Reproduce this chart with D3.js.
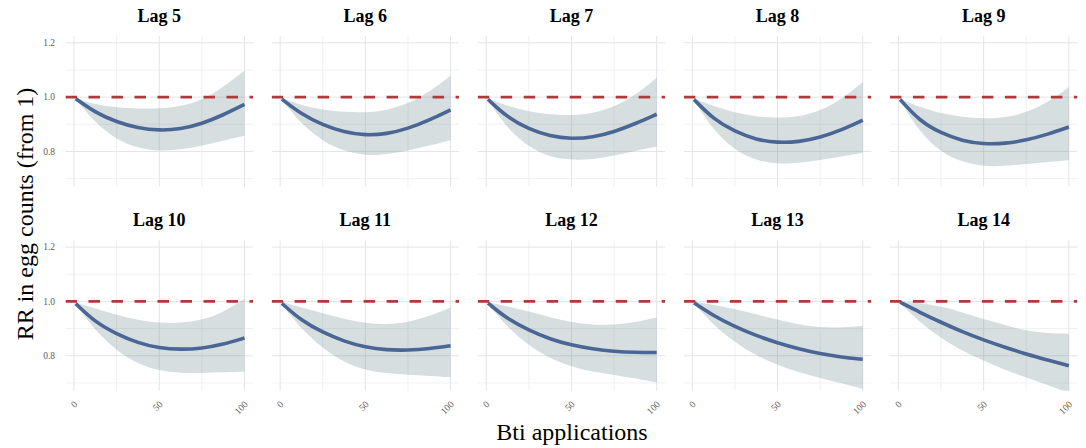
<!DOCTYPE html>
<html>
<head>
<meta charset="utf-8">
<script src="https://cdn.jsdelivr.net/npm/d3@7"></script>
<style>
  html, body { margin: 0; padding: 0; background: #ffffff; }
  svg { display: block; }
</style>
</head>
<body>
<svg id="chart" width="1086" height="448"></svg>
<script>
// ---- data ----
const lags = ["Lag 5", "Lag 6", "Lag 7", "Lag 8", "Lag 9", "Lag 10", "Lag 11", "Lag 12", "Lag 13", "Lag 14"];
const btiApplications = [1, 12.5, 25, 37.5, 50, 62.5, 75, 87.5, 100];
const rrFit = [
  [0.994, 0.943, 0.908, 0.886, 0.877, 0.882, 0.902, 0.934, 0.973],
  [0.993, 0.937, 0.898, 0.871, 0.859, 0.864, 0.884, 0.915, 0.953],
  [0.992, 0.925, 0.882, 0.856, 0.846, 0.852, 0.872, 0.902, 0.937],
  [0.991, 0.918, 0.873, 0.843, 0.832, 0.835, 0.851, 0.879, 0.915],
  [0.991, 0.912, 0.867, 0.839, 0.827, 0.829, 0.841, 0.863, 0.890],
  [0.992, 0.923, 0.880, 0.847, 0.828, 0.823, 0.827, 0.842, 0.865],
  [0.993, 0.929, 0.886, 0.853, 0.831, 0.821, 0.820, 0.826, 0.837],
  [0.994, 0.935, 0.894, 0.861, 0.839, 0.825, 0.816, 0.812, 0.812],
  [0.995, 0.947, 0.907, 0.874, 0.847, 0.825, 0.807, 0.795, 0.787],
  [0.997, 0.960, 0.923, 0.888, 0.858, 0.831, 0.806, 0.784, 0.763]
];
const rrUpper = [
  [0.996, 0.972, 0.962, 0.958, 0.957, 0.966, 0.988, 1.036, 1.097],
  [0.995, 0.970, 0.953, 0.945, 0.943, 0.951, 0.976, 1.018, 1.080],
  [0.995, 0.967, 0.946, 0.935, 0.933, 0.940, 0.963, 1.007, 1.071],
  [0.995, 0.967, 0.943, 0.928, 0.924, 0.928, 0.949, 0.991, 1.055],
  [0.995, 0.963, 0.940, 0.927, 0.921, 0.924, 0.943, 0.979, 1.037],
  [0.996, 0.974, 0.950, 0.931, 0.921, 0.920, 0.931, 0.960, 1.009],
  [0.997, 0.978, 0.956, 0.935, 0.920, 0.915, 0.923, 0.945, 0.978],
  [0.998, 0.982, 0.963, 0.941, 0.923, 0.914, 0.913, 0.923, 0.941],
  [0.999, 0.988, 0.972, 0.953, 0.933, 0.915, 0.904, 0.904, 0.910],
  [1.000, 0.994, 0.982, 0.960, 0.935, 0.913, 0.892, 0.882, 0.881]
];
const rrLower = [
  [0.992, 0.906, 0.842, 0.813, 0.801, 0.806, 0.821, 0.840, 0.858],
  [0.991, 0.900, 0.837, 0.801, 0.785, 0.789, 0.803, 0.821, 0.842],
  [0.990, 0.882, 0.817, 0.778, 0.768, 0.771, 0.784, 0.802, 0.818],
  [0.988, 0.876, 0.805, 0.766, 0.754, 0.757, 0.768, 0.782, 0.795],
  [0.987, 0.870, 0.796, 0.760, 0.745, 0.746, 0.754, 0.761, 0.768],
  [0.988, 0.892, 0.818, 0.769, 0.745, 0.736, 0.736, 0.739, 0.741],
  [0.989, 0.898, 0.827, 0.775, 0.747, 0.735, 0.730, 0.726, 0.721],
  [0.991, 0.904, 0.837, 0.790, 0.759, 0.741, 0.729, 0.717, 0.702],
  [0.992, 0.913, 0.849, 0.800, 0.766, 0.739, 0.718, 0.699, 0.678],
  [0.994, 0.923, 0.864, 0.818, 0.782, 0.747, 0.720, 0.693, 0.662]
];
const yTicks = [0.8, 1.0, 1.2];
const yMinorTicks = [0.7, 0.9, 1.1];
const xTicks = [0, 50, 100];
const xMinorTicks = [25, 75];
const referenceRR = 1;

// ---- layout ----
const svg = d3.select("#chart");
const nCols = 5;
const panelW = 187.5, panelH = 150.5;
const colStep = 206.1, rowStep = 204.3;
const left0 = 65.5, top0 = 36;

const x = d3.scaleLinear().domain([-5, 105]).range([0, panelW]);
const y = d3.scaleLinear().domain([0.671, 1.225]).range([panelH, 0]);

const serif = "'Liberation Serif', 'Times New Roman', Times, serif";
const curve = d3.curveBasis;

const defs = svg.append("defs");

lags.forEach((lag, i) => {
  const col = i % nCols, row = Math.floor(i / nCols);
  const px = left0 + col * colStep, py = top0 + row * rowStep;
  const g = svg.append("g").attr("transform", `translate(${px},${py})`);

  defs.append("clipPath").attr("id", "clip" + i)
    .append("rect").attr("x", 0).attr("y", 0).attr("width", panelW).attr("height", panelH);

  // minor grid
  g.selectAll(".ymin").data(yMinorTicks).join("line")
    .attr("x1", 0).attr("x2", panelW).attr("y1", d => y(d)).attr("y2", d => y(d))
    .attr("stroke", "#eceef1").attr("stroke-width", 0.9);
  g.selectAll(".xmin").data(xMinorTicks).join("line")
    .attr("y1", 0).attr("y2", panelH).attr("x1", d => x(d)).attr("x2", d => x(d))
    .attr("stroke", "#eceef1").attr("stroke-width", 0.9);
  // major grid
  g.selectAll(".ymaj").data(yTicks).join("line")
    .attr("x1", 0).attr("x2", panelW).attr("y1", d => y(d)).attr("y2", d => y(d))
    .attr("stroke", "#e2e4e9").attr("stroke-width", 1);
  g.selectAll(".xmaj").data(xTicks).join("line")
    .attr("y1", 0).attr("y2", panelH).attr("x1", d => x(d)).attr("x2", d => x(d))
    .attr("stroke", "#e2e4e9").attr("stroke-width", 1);

  const pts = btiApplications.map((b, k) => ({ b, fit: rrFit[i][k], lo: rrLower[i][k], hi: rrUpper[i][k] }));
  const plot = g.append("g").attr("clip-path", `url(#clip${i})`);

  plot.append("path").datum(pts)
    .attr("d", d3.area().x(d => x(d.b)).y0(d => y(d.lo)).y1(d => y(d.hi)).curve(curve))
    .attr("fill", "#6b8a8f").attr("fill-opacity", 0.28);

  plot.append("line")
    .attr("x1", 0).attr("x2", panelW).attr("y1", y(referenceRR)).attr("y2", y(referenceRR))
    .attr("stroke", "#b0393b").attr("stroke-width", 2.6).attr("stroke-dasharray", "11.5,11.5");

  plot.append("path").datum(pts)
    .attr("d", d3.line().x(d => x(d.b)).y(d => y(d.fit)).curve(curve))
    .attr("fill", "none").attr("stroke", "#4a6694").attr("stroke-width", 3.6).attr("stroke-linecap", "butt");

  // facet title
  svg.append("text")
    .attr("x", px + panelW / 2).attr("y", py - 14)
    .attr("text-anchor", "middle")
    .attr("font-family", serif).attr("font-weight", "bold").attr("font-size", 18)
    .attr("fill", "#000").text(lag);

  // y tick labels (first column)
  if (col === 0) {
    g.selectAll(".ytl").data(yTicks).join("text")
      .attr("x", -10.5).attr("y", d => y(d)).attr("dy", "0.35em")
      .attr("text-anchor", "end")
      .attr("font-family", serif).attr("font-size", 9.5).attr("fill", "#5a5a5a")
      .text(d => d3.format(".1f")(d));
  }
  // x tick labels (bottom row)
  if (row === 1) {
    g.selectAll(".xtl").data(xTicks).join("text")
      .attr("transform", d => `translate(${x(d) + 4},${panelH + 14}) rotate(-45)`)
      .attr("text-anchor", "end")
      .attr("font-family", serif).attr("font-size", 9.5).attr("fill", "#5a5a5a")
      .text(d => d);
  }
});

// axis titles
svg.append("text")
  .attr("transform", `translate(33,214) rotate(-90)`)
  .attr("text-anchor", "middle")
  .attr("font-family", serif).attr("font-size", 24).attr("fill", "#000")
  .text("RR in egg counts (from 1)");

svg.append("text")
  .attr("x", 572).attr("y", 440)
  .attr("text-anchor", "middle")
  .attr("font-family", serif).attr("font-size", 24).attr("fill", "#000")
  .text("Bti applications");
</script>
</body>
</html>
